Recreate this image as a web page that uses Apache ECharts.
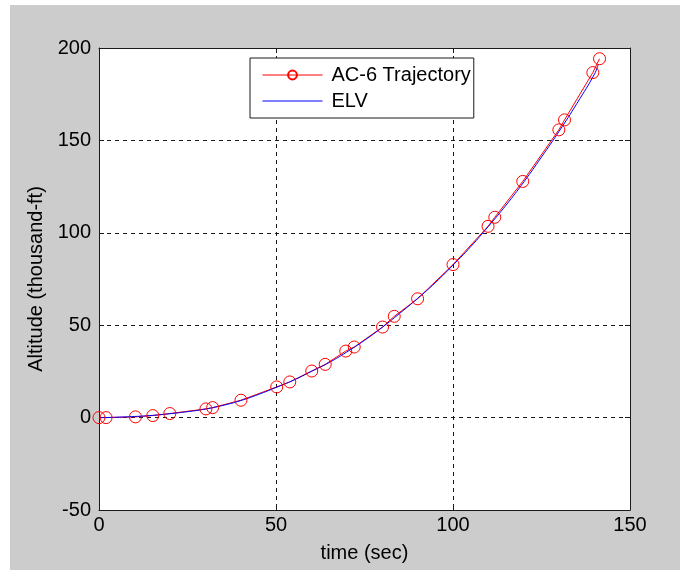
<!DOCTYPE html>
<html>
<head>
<meta charset="utf-8">
<script src="https://cdn.jsdelivr.net/npm/echarts@6/dist/echarts.min.js"></script>
<style>
  body { margin: 0; background: #ffffff; }
  #chart { position: absolute; left: 10px; top: 5px; width: 670px; height: 565px; background: #cccccc; }
</style>
</head>
<body>
<div id="chart"></div>
<script>
// AC-6 trajectory samples (time in sec, altitude in thousand-ft)
var acTime = [0, 2, 10.3, 15.2, 20, 30.2, 32.1, 40.1, 50.2, 53.9, 60.1, 63.9, 69.7, 72.1, 80.1, 83.4, 90, 100, 109.9, 111.8, 119.7, 129.9, 131.5, 139.5, 141.4]
var acAlt = [0, 0, 0.4, 1.1, 2.2, 4.7, 5.4, 9.4, 16.6, 19.3, 25.2, 28.8, 36, 38.2, 49, 54.8, 64.3, 82.8, 103.5, 108.4, 127.8, 155.7, 161.1, 186.7, 194.2]

// ELV curve
var elvTime = [0, 5, 10, 15, 20, 25, 30, 35, 40, 45, 50, 55, 60, 65, 70, 75, 80, 85, 90, 95, 100, 105, 110, 115, 120, 125, 130, 135, 140, 141]
var elvAlt = [0, 0.2, 0.6, 1.2, 2.1, 3.2, 4.6, 6.6, 9.2, 12.5, 16.3, 20.3, 25, 29.8, 35.5, 41.8, 48.8, 56.5, 64.5, 73, 82.5, 92.5, 103.5, 115, 127.5, 141, 155, 170, 186, 191]

var xTicks = [0, 50, 100, 150]
var yTicks = [-50, 0, 50, 100, 150, 200]

var font = "'Liberation Sans', Arial, sans-serif"
var ink = '#1a1a1a'

function pairs(xs, ys) {
  return xs.map(function (x, i) { return [x, ys[i]] })
}

var chart = echarts.init(document.getElementById('chart'))

var option = {
  animation: false,
  textStyle: { fontFamily: font, color: '#000' },
  grid: { left: 89, right: 50, top: 43, bottom: 60, backgroundColor: '#ffffff', show: true, borderWidth: 0 },
  legend: {
    orient: 'vertical',
    left: 240,
    top: 53,
    padding: [7, 3, 7, 12],
    itemWidth: 60,
    itemHeight: 11,
    itemGap: 6,
    backgroundColor: '#ffffff',
    borderColor: ink,
    borderWidth: 1,
    borderRadius: 0,
    lineStyle: { width: 1 },
    textStyle: { fontSize: 20, color: '#000', padding: [0, 0, 0, 4] },
    data: [
      { name: 'AC-6 Trajectory' },
      { name: 'ELV', itemStyle: { opacity: 0 } }
    ]
  },
  xAxis: [
    {
      type: 'value', min: xTicks[0], max: xTicks[xTicks.length - 1], interval: 50,
      name: 'time (sec)', nameLocation: 'middle', nameGap: 33,
      nameTextStyle: { fontSize: 20, color: '#000' },
      axisLine: { onZero: false, lineStyle: { color: ink, width: 1 } },
      axisTick: { inside: true, length: 5, lineStyle: { color: ink } },
      axisLabel: { fontSize: 20, color: '#000', margin: 5 },
      splitLine: { show: true, lineStyle: { color: ink, type: [4, 4], width: 1 } }
    },
    {
      type: 'value', position: 'top', min: xTicks[0], max: xTicks[xTicks.length - 1], interval: 50,
      axisLine: { onZero: false, lineStyle: { color: ink, width: 1 } },
      axisTick: { inside: true, length: 5, lineStyle: { color: ink } },
      axisLabel: { show: false },
      splitLine: { show: false }
    }
  ],
  yAxis: [
    {
      type: 'value', min: yTicks[0], max: yTicks[yTicks.length - 1], interval: 50,
      name: 'Altitude (thousand-ft)', nameLocation: 'middle', nameGap: 48, nameRotate: 90,
      nameTextStyle: { fontSize: 20, color: '#000' },
      axisLine: { onZero: false, lineStyle: { color: ink, width: 1 } },
      axisTick: { inside: true, length: 5, lineStyle: { color: ink } },
      axisLabel: { fontSize: 20, color: '#000', margin: 8 },
      splitLine: { show: true, lineStyle: { color: ink, type: [4, 4], width: 1 } }
    },
    {
      type: 'value', position: 'right', min: yTicks[0], max: yTicks[yTicks.length - 1], interval: 50,
      axisLine: { onZero: false, lineStyle: { color: ink, width: 1 } },
      axisTick: { inside: true, length: 5, lineStyle: { color: ink } },
      axisLabel: { show: false },
      splitLine: { show: false }
    }
  ],
  series: [
    {
      name: 'AC-6 Trajectory',
      type: 'line',
      data: pairs(acTime, acAlt),
      symbol: 'circle',
      symbolSize: 12,
      showAllSymbol: true,
      lineStyle: { color: '#ff0000', width: 1 },
      itemStyle: { color: 'transparent', borderColor: '#ff0000', borderWidth: 1 }
    },
    {
      name: 'ELV',
      type: 'line',
      data: pairs(elvTime, elvAlt),
      smooth: true,
      symbol: 'none',
      lineStyle: { color: '#0000ff', width: 1 },
      itemStyle: { color: '#0000ff' }
    }
  ]
}

chart.setOption(option)
</script>
</body>
</html>
